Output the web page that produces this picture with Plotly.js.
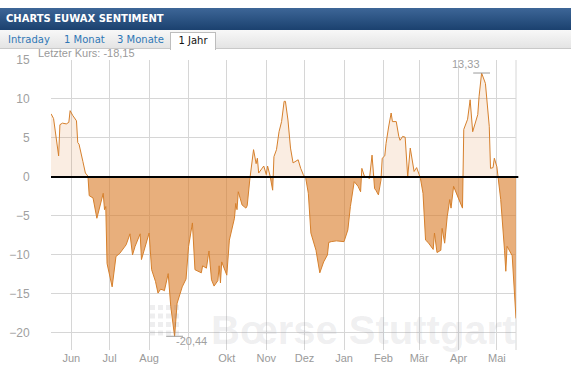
<!DOCTYPE html>
<html>
<head>
<meta charset="utf-8">
<script src="https://cdn.plot.ly/plotly-3.0.1.min.js"></script>
<style>
  html, body { margin: 0; padding: 0; background: #fff; }
  #wrap { position: relative; width: 571px; height: 389px; overflow: hidden; }
  #chart { position: absolute; left: 0; top: 0; width: 571px; height: 389px; }
  #hdr { position: absolute; left: 0; top: 8px; width: 571px; height: 22px;
         background: linear-gradient(#3d6697, #1b416f); color: #fff;
         font: bold 10px "DejaVu Sans", Verdana, sans-serif; line-height: 22px;
         text-indent: 6px; z-index: 5; }
  #tabs { position: absolute; left: 0; top: 30px; width: 571px; height: 18px;
          background: linear-gradient(#f8f8f8, #e4e4e4); border-bottom: 1px solid #c9c9c9; z-index: 5; }
  .tab { position: absolute; top: 3px; font: 10px "DejaVu Sans", Verdana, sans-serif;
         color: #2f77b5; line-height: 14px; }
  #active { position: absolute; left: 170px; top: 2px; width: 44px; height: 17px; background: #fff;
            border: 1px solid #bdbdbd; border-bottom: none; color: #111;
            font: 10px "DejaVu Sans", Verdana, sans-serif; line-height: 16px; text-align: center; }
  #last { position: absolute; left: 38px; top: 47px; font: 11px Arial, "Liberation Sans", sans-serif;
          color: #9a9a9a; z-index: 5; line-height: 13px; }
</style>
</head>
<body>
<div id="wrap">
  <div id="chart"></div>
  <div id="hdr">CHARTS EUWAX SENTIMENT</div>
  <div id="tabs">
    <span class="tab" style="left:8px">Intraday</span>
    <span class="tab" style="left:64px">1 Monat</span>
    <span class="tab" style="left:117px">3 Monate</span>
    <div id="active">1 Jahr</div>
  </div>
  <div id="last">Letzter Kurs: -18,15</div>
</div>
<script>
// ---- data ----
const dates = [
"2012-05-16","2012-05-18","2012-05-22","2012-05-23","2012-05-25","2012-05-28","2012-05-30","2012-05-31",
"2012-06-02","2012-06-05","2012-06-06","2012-06-07","2012-06-10","2012-06-12","2012-06-14","2012-06-15",
"2012-06-18","2012-06-21","2012-06-26","2012-06-27","2012-06-28","2012-06-29","2012-07-03","2012-07-06",
"2012-07-09","2012-07-12","2012-07-14","2012-07-17","2012-07-19","2012-07-21","2012-07-25","2012-07-26",
"2012-07-28","2012-08-01","2012-08-03","2012-08-06","2012-08-08","2012-08-10","2012-08-12","2012-08-13",
"2012-08-16","2012-08-18","2012-08-21","2012-08-23","2012-08-27","2012-08-30","2012-09-01","2012-09-04",
"2012-09-06","2012-09-09","2012-09-11","2012-09-12","2012-09-15","2012-09-17","2012-09-19","2012-09-21",
"2012-09-24","2012-09-25","2012-09-26","2012-09-27","2012-09-29","2012-10-01","2012-10-03","2012-10-07",
"2012-10-08","2012-10-09","2012-10-10","2012-10-13","2012-10-16","2012-10-17","2012-10-19","2012-10-22",
"2012-10-24","2012-10-25","2012-10-26","2012-10-29","2012-10-30","2012-11-01","2012-11-02","2012-11-04",
"2012-11-06","2012-11-07","2012-11-09","2012-11-11","2012-11-13","2012-11-15","2012-11-16","2012-11-18",
"2012-11-20","2012-11-22","2012-11-24","2012-11-26","2012-11-28","2012-11-30","2012-12-02","2012-12-04",
"2012-12-06","2012-12-10","2012-12-13","2012-12-16","2012-12-19","2012-12-20","2012-12-22","2012-12-26",
"2013-01-01","2013-01-04","2013-01-06","2013-01-09","2013-01-12","2013-01-14","2013-01-15","2013-01-17",
"2013-01-19","2013-01-21","2013-01-23","2013-01-24","2013-01-25","2013-01-26","2013-01-28","2013-01-30",
"2013-01-31","2013-02-02","2013-02-03","2013-02-05","2013-02-07","2013-02-08","2013-02-11","2013-02-13",
"2013-02-14","2013-02-16","2013-02-18","2013-02-20","2013-02-22","2013-02-25","2013-02-27","2013-03-01",
"2013-03-02","2013-03-04","2013-03-06","2013-03-08","2013-03-12","2013-03-13","2013-03-15","2013-03-18",
"2013-03-19","2013-03-21","2013-03-23","2013-03-25","2013-03-26","2013-03-28","2013-03-31","2013-04-04",
"2013-04-05","2013-04-08","2013-04-10","2013-04-12","2013-04-16","2013-04-17","2013-04-19","2013-04-22",
"2013-04-25","2013-04-26","2013-04-28","2013-04-29","2013-05-01","2013-05-02","2013-05-04","2013-05-07",
"2013-05-08","2013-05-09","2013-05-11","2013-05-13","2013-05-16"
];
const sentiment = [
8.1,7.5,2.7,6.7,6.9,6.8,7.0,8.5,
7.9,7.2,4.4,4.2,2.0,0.5,0.1,-2.4,
-2.7,-5.3,-2.1,-4.2,-3.8,-11.1,-14.1,-10.2,
-9.8,-9.1,-8.7,-7.3,-10.0,-8.9,-7.3,-10.6,
-9.5,-7.2,-11.9,-13.4,-14.9,-14.4,-14.5,-14.6,
-12.4,-16.6,-20.44,-16.2,-14.1,-13.1,-8.9,-5.9,
-11.9,-12.1,-12.3,-11.4,-11.7,-9.5,-13.2,-14.0,
-13.3,-11.4,-13.6,-10.9,-11.8,-12.6,-8.1,-5.3,
-3.4,-4.2,-1.9,-3.6,-4.0,-3.7,-0.4,3.5,
1.7,2.4,0.5,1.1,1.4,0.3,1.4,0.1,
-1.7,2.6,3.5,5.8,7.1,9.7,9.7,7.3,
3.7,1.8,2.0,2.2,1.1,0.3,-0.2,-2.1,
-7.2,-9.4,-12.3,-10.9,-10.0,-8.4,-8.3,-8.2,
-8.3,-6.8,-3.8,-0.6,-1.2,-1.9,1.1,0.1,
0.0,-0.2,2.8,1.1,-1.5,-1.7,-2.3,-0.4,
2.4,2.7,4.3,6.4,8.2,7.1,7.1,5.2,
4.7,5.2,5.1,0.0,3.7,0.7,1.2,0.3,
-0.2,-2.1,-8.1,-8.4,-9.3,-7.2,-9.7,-9.4,
-6.6,-8.5,-5.1,-2.9,-4.0,-1.2,-2.5,-4.0,
6.1,7.4,9.9,5.8,8.0,10.3,13.33,12.0,
6.5,1.1,1.2,2.4,1.3,-0.2,-2.9,-9.4,
-12.1,-8.9,-9.6,-10.1,-18.15
];
const monthTicks = ["2012-06-01","2012-07-01","2012-08-01","2012-09-01","2012-10-01","2012-11-01",
                    "2012-12-01","2013-01-01","2013-02-01","2013-03-01","2013-04-01","2013-05-01"];
const monthLabels = ["Jun","Jul","Aug","","Okt","Nov","Dez","Jan","Feb","Mär","Apr","Mai"];
const yTicks = [-20,-15,-10,-5,0,5,10,15];

// ---- split into positive / negative fill parts (with zero crossings) ----
const posX = [], posY = [], negX = [], negY = [];
const t = dates.map(d => new Date(d + "T00:00:00Z").getTime());
const iso = ms => new Date(ms).toISOString().slice(0,19).replace("T"," ");
for (let i = 0; i < sentiment.length; i++) {
  const v = sentiment[i];
  if (i > 0) {
    const p = sentiment[i-1];
    if ((p > 0 && v < 0) || (p < 0 && v > 0)) {
      const cx = iso(t[i-1] + (t[i] - t[i-1]) * p / (p - v));
      posX.push(cx); posY.push(0); negX.push(cx); negY.push(0);
    }
  }
  posX.push(dates[i]); posY.push(Math.max(v, 0));
  negX.push(dates[i]); negY.push(Math.min(v, 0));
}
let iMax = 0, iMin = 0;
sentiment.forEach((v, i) => { if (v > sentiment[iMax]) iMax = i; if (v < sentiment[iMin]) iMin = i; });
const fmt = v => v.toFixed(2).replace(".", ",");

const lineCol = "rgb(214,128,44)";
const traces = [
  { x: posX, y: posY, type: "scatter", mode: "lines", fill: "tozeroy",
    fillcolor: "rgba(222,130,50,0.14)", line: { width: 0 }, hoverinfo: "skip" },
  { x: negX, y: negY, type: "scatter", mode: "lines", fill: "tozeroy",
    fillcolor: "rgba(216,122,36,0.6)", line: { width: 0 }, hoverinfo: "skip" },
  { x: dates, y: sentiment, type: "scatter", mode: "lines",
    line: { color: lineCol, width: 1 } },
  { x: [dates[iMax], dates[iMin]], y: [sentiment[iMax], sentiment[iMin]], type: "scatter",
    mode: "markers", marker: { symbol: "line-ew", size: 12, line: { color: "#9a9a9a", width: 1 } } }
];

const shapes = [
  { type: "line", xref: "paper", yref: "y", x0: 0, x1: 1.005, y0: 0, y1: 0,
    line: { color: "#000", width: 2 }, layer: "above" },
  { type: "line", xref: "paper", yref: "paper", x0: 1, x1: 1, y0: 0, y1: 1,
    line: { color: "#d6d6d6", width: 1 }, layer: "below" }
];
// faint logo dots of the watermark
for (let r = 0; r < 4; r++) for (let c = 0; c < 4; c++) {
  const px = 150 + c * 8, py = 305 + r * 8.5;
  shapes.push({ type: "rect", xref: "paper", yref: "paper",
    x0: (px - 51) / 465, x1: (px + 5 - 51) / 465, y0: (350 - py - 5) / 290, y1: (350 - py) / 290,
    fillcolor: "rgba(120,120,130,0.13)", line: { width: 0 }, layer: "above" });
}

const layout = {
  width: 571, height: 389,
  margin: { l: 51, r: 55, t: 60, b: 39 },
  paper_bgcolor: "#fff", plot_bgcolor: "#fff",
  showlegend: false,
  font: { family: "Arial, 'Liberation Sans', sans-serif", color: "#9a9a9a", size: 11 },
  xaxis: {
    type: "date", range: ["2012-05-16", "2013-05-16"],
    tickmode: "array", tickvals: monthTicks, ticktext: monthLabels,
    showgrid: true, gridcolor: "#d6d6d6", gridwidth: 1,
    zeroline: false, showline: false, ticks: "", tickfont: { size: 11, color: "#9a9a9a" }
  },
  yaxis: {
    range: [-22.2, 15], tickmode: "array", tickvals: yTicks,
    showgrid: true, gridcolor: "#d6d6d6", gridwidth: 1,
    zeroline: false, showline: false, ticks: "outside", ticklen: 18, tickcolor: "rgba(0,0,0,0)",
    tickfont: { size: 12, color: "#a0a0a0" }
  },
  shapes: shapes,
  annotations: [
    { x: dates[iMax], y: sentiment[iMax], text: fmt(sentiment[iMax]), showarrow: false,
      xanchor: "right", yanchor: "middle", xshift: 0, yshift: 9, font: { size: 11, color: "#a0a0a0" } },
    { x: dates[iMin], y: sentiment[iMin], text: fmt(sentiment[iMin]), showarrow: false,
      xanchor: "left", yanchor: "middle", xshift: -1, yshift: -5, font: { size: 11, color: "#a0a0a0" } },
    { xref: "paper", yref: "paper", x: (363 - 51) / 465, y: (350 - 330) / 290,
      text: "<b>Bœrse Stuttgart</b>", showarrow: false, xanchor: "center", yanchor: "middle",
      font: { size: 40, family: "Arial, 'Liberation Sans', sans-serif", color: "rgba(140,140,150,0.14)" } }
  ]
};

Plotly.newPlot("chart", traces, layout, { displayModeBar: false, staticPlot: true });
</script>
</body>
</html>
